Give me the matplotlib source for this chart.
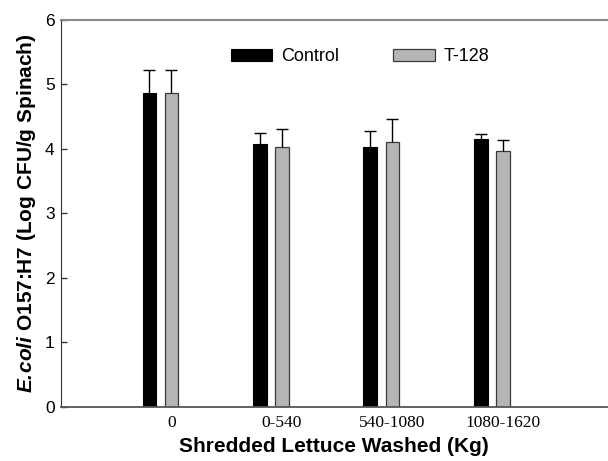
import matplotlib
matplotlib.use('Agg')
import matplotlib.pyplot as plt
import numpy as np

plt.rcParams['font.family'] = 'Liberation Sans'
plt.rcParams['mathtext.fontset'] = 'custom'
plt.rcParams['mathtext.bfit'] = 'Liberation Sans:italic:bold'
plt.rcParams['mathtext.rm'] = 'Liberation Sans:bold'

# data
categories = ['0', '0-540', '540-1080', '1080-1620']
control = [4.87, 4.07, 4.02, 4.15]
control_err = [0.35, 0.17, 0.25, 0.08]
t128 = [4.87, 4.03, 4.11, 3.97]
t128_err = [0.35, 0.28, 0.35, 0.17]

x = np.arange(1, len(categories) + 1)
w = 0.124

fig = plt.figure(figsize=(6.08, 4.61), dpi=100)
ax = fig.add_axes([0.1003, 0.1178, 0.8977, 0.8394])

zeros = [0] * len(x)
ax.bar(x - 0.1, control, w, color='black', edgecolor='black', linewidth=0.8,
       label='Control')
ax.bar(x + 0.1, t128, w, color='#b5b5b5', edgecolor='#3a3a3a', linewidth=0.9,
       label='T-128')

# upper error bars only
for xs, ys, es in [(x - 0.1, control, control_err), (x + 0.1, t128, t128_err)]:
    eb = ax.errorbar(xs, ys, yerr=[zeros, es], fmt='none', ecolor='black',
                     elinewidth=1.0, capsize=4.3, capthick=1.0, zorder=1)
    eb[1][0].set_visible(False)

ax.set_xlim(0.1, 5.04)
ax.set_ylim(0, 6)
ax.set_yticks(range(0, 7))
ax.tick_params(axis='y', direction='in', length=4, width=1, color='#333333',
               labelsize=12.5, pad=4.5)
ax.set_xticks(x + 0.1)
ax.set_xticklabels(categories, fontfamily='Liberation Serif', fontsize=12.5)
ax.tick_params(axis='x', length=0, pad=6)

ax.spines['right'].set_visible(False)
ax.spines['top'].set_color('#888888')
ax.spines['top'].set_linewidth(1.5)
ax.spines['left'].set_color('#333333')
ax.spines['bottom'].set_color('#555555')
ax.spines['bottom'].set_linewidth(1.3)

ax.set_xlabel('Shredded Lettuce Washed (Kg)', fontsize=15, fontweight='bold', labelpad=4)
ax.set_ylabel(r'$\mathbfit{E.\!coli}$ O157:H7 (Log CFU/g Spinach)', fontsize=15,
              fontweight='bold', labelpad=5)

ax.legend(loc='center left', bbox_to_anchor=(0.311, 0.904), ncol=2, frameon=False,
          fontsize=13, handlelength=2.3, handleheight=0.64, handletextpad=0.5,
          columnspacing=3.0, borderpad=0, borderaxespad=0)

fig.savefig('out.png', dpi=100)
